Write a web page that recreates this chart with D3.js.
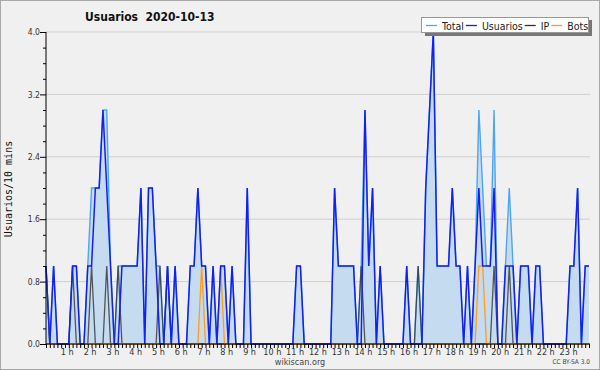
<!DOCTYPE html>
<html>
<head>
<meta charset="utf-8">
<script src="https://cdn.jsdelivr.net/npm/d3@7"></script>
<style>
  body { margin: 0; background: #f0f0f0; }
  svg { display: block; }
  text { font-family: "DejaVu Sans Condensed", "DejaVu Sans", sans-serif; font-stretch: condensed; }
</style>
</head>
<body>
<svg id="chart" width="600" height="370"></svg>
<script>
// 10-minute slots over the day, 0..143
var usuarios = [
  1,0,1,0,0,0,0,1,1,0,
  0,1,1,2,2,3,2,1,0,0,
  1,1,1,1,1,2,0,2,2,1,
  0,0,1,0,1,0,0,0,1,1,
  2,1,1,0,1,0,1,1,0,1,
  0,0,0,2,0,0,0,0,0,0,
  0,0,0,0,0,0,1,1,0,0,
  0,0,0,0,0,0,2,1,1,1,
  1,1,0,0,3,1,2,0,1,0,
  0,0,0,0,0,1,0,0,0,0,
  2,3,4,1,1,1,1,2,1,1,
  0,1,0,1,2,1,1,1,2,0,
  0,1,1,1,0,1,1,1,0,1,
  1,0,0,0,0,0,0,0,1,1,
  2,0,1,1
];
var total = [
  1,0,1,0,0,0,0,1,1,0,
  0,1,2,2,2,3,3,1,0,1,
  1,1,1,1,1,2,0,2,2,1,
  1,0,1,0,1,0,0,0,1,1,
  2,1,1,0,1,0,1,1,0,1,
  0,0,0,2,0,0,0,0,0,0,
  0,0,0,0,0,0,1,1,0,0,
  0,0,0,0,0,0,2,1,1,1,
  1,1,0,1,3,1,2,0,1,0,
  0,0,0,0,0,1,0,0,1,0,
  2,3,4,1,1,1,1,2,1,1,
  0,1,0,1,3,2,1,1,3,0,
  0,1,2,1,0,1,1,1,0,1,
  1,0,0,0,0,0,0,0,1,1,
  2,0,1,1
];
var ip = [
  1,0,0,0,0,0,0,1,0,0,
  0,0,1,0,0,0,1,0,0,1,
  0,0,0,0,0,0,0,0,0,0,
  1,0,1,0,0,0,0,0,0,0,
  0,0,0,0,0,0,0,0,0,0,
  0,0,0,0,0,0,0,0,0,0,
  0,0,0,0,0,0,0,0,0,0,
  0,0,0,0,0,0,0,0,0,0,
  0,0,0,1,0,0,0,0,0,0,
  0,0,0,0,0,0,0,0,1,0,
  0,0,0,0,0,0,0,0,0,0,
  0,0,0,0,0,0,0,0,1,0,
  0,0,1,0,0,0,0,0,0,0,
  0,0,0,0,0,0,0,0,0,0,
  0,0,0,0
];
var bots = [
  0,0,0,0,0,0,0,0,0,0,
  0,0,0,0,0,0,0,0,0,0,
  0,0,0,0,0,0,0,0,0,0,
  0,0,0,0,0,0,0,0,0,0,
  0,1,0,0,0,0,1,0,0,0,
  0,0,0,0,0,0,0,0,0,0,
  0,0,0,0,0,0,0,0,0,0,
  0,0,0,0,0,0,0,0,0,0,
  0,0,0,0,0,0,0,0,0,0,
  0,0,0,0,0,0,0,0,0,0,
  0,0,0,0,0,0,0,0,0,0,
  0,0,0,0,1,1,0,0,0,0,
  0,0,0,0,0,0,0,0,0,0,
  0,0,0,0,0,0,0,0,0,0,
  0,0,0,0
];
var yTicks = [0, 0.8, 1.6, 2.4, 3.2, 4.0];
var legendNames = ["Total", "Usuarios", "IP", "Bots"];
var legendColors = ["#4ea6ee", "#1420f2", "#333333", "#ff9c1c"];

var svg = d3.select("#chart");
var margin = {left: 46, right: 589, top: 32, bottom: 344};

svg.append("rect").attr("x", 0.5).attr("y", 0.5).attr("width", 599).attr("height", 369)
    .attr("fill", "#f0f0f0").attr("stroke", "#a8a8a8");

var x = d3.scaleLinear().domain([0, 143]).range([margin.left, margin.right]);
var y = d3.scaleLinear().domain([0, 4]).range([margin.bottom, margin.top]);

// grid
svg.append("g").selectAll("line").data(yTicks.slice(1)).enter().append("line")
    .attr("x1", margin.left).attr("x2", 590)
    .attr("y1", function(d) { return y(d); }).attr("y2", function(d) { return y(d); })
    .attr("stroke", "#cfcfcf").attr("stroke-width", 1);

var area = d3.area()
    .x(function(d, i) { return x(i); })
    .y0(y(0))
    .y1(function(d) { return y(d); });

var line = d3.line()
    .x(function(d, i) { return x(i); })
    .y(function(d) { return y(d); });

svg.append("path").datum(total).attr("fill", "#c5dcf0").attr("d", area);

svg.append("path").datum(total)
    .attr("fill", "none").attr("stroke", legendColors[0]).attr("stroke-width", 1.4)
    .attr("d", line);
svg.append("path").datum(ip)
    .attr("fill", "none").attr("stroke", legendColors[2]).attr("stroke-opacity", 0.8).attr("stroke-width", 1.3)
    .attr("d", line);
svg.append("path").datum(bots)
    .attr("fill", "none").attr("stroke", legendColors[3]).attr("stroke-width", 1.3)
    .attr("d", line);
svg.append("path").datum(usuarios)
    .attr("fill", "none").attr("stroke", legendColors[1]).attr("stroke-width", 1.5)
    .attr("d", line);

// y axis
var yAxis = svg.append("g").attr("transform", "translate(" + margin.left + ",0)")
    .call(d3.axisLeft(y).tickValues(d3.range(0, 4.01, 0.2)).tickSize(3)
      .tickFormat(function(d) {
        var k = Math.round(d * 10);
        return k % 8 === 0 ? d3.format(".1f")(d) : "";
      }));
yAxis.select(".domain").attr("stroke", "#000").attr("d", "M0," + margin.top + "V" + margin.bottom);
yAxis.selectAll(".tick").filter(function(d) { return Math.round(d * 10) % 8 === 0; })
    .select("line").attr("x2", -6);
yAxis.selectAll("text").attr("x", -6).attr("font-size", 8.5).attr("fill", "#333");

// x axis
var xAxis = svg.append("g").attr("transform", "translate(0," + margin.bottom + ")")
    .call(d3.axisBottom(x).tickValues(d3.range(0, 144)).tickSize(4)
      .tickFormat(function(d) { return (d % 6 === 0 && d > 0) ? (d / 6) + " h" : ""; }));
xAxis.select(".domain").attr("stroke", "#000").attr("d", "M" + margin.left + ",0H590");
xAxis.selectAll("text").attr("y", 5).attr("dx", -2).attr("font-size", 9).attr("fill", "#333");

// title and labels
svg.append("text").attr("x", 85).attr("y", 21).attr("font-size", 12).attr("font-weight", "bold")
    .attr("fill", "#111").attr("xml:space", "preserve").text("Usuarios  2020-10-13");

svg.append("text").attr("transform", "translate(12,189) rotate(-90)")
    .attr("text-anchor", "middle").attr("font-size", 10)
    .style("font-family", "'DejaVu Sans Mono', monospace").style("font-stretch", "normal")
    .attr("fill", "#111").text("Usuarios/10 mins");

svg.append("text").attr("x", 300).attr("y", 365).attr("text-anchor", "middle")
    .attr("font-size", 9).attr("fill", "#444").text("wikiscan.org");
svg.append("text").attr("x", 590).attr("y", 364).attr("text-anchor", "end")
    .attr("font-size", 6.5).attr("fill", "#444").text("CC BY-SA 3.0");

// legend
var lg = svg.append("g");
lg.append("rect").attr("x", 425).attr("y", 20).attr("width", 167).attr("height", 16).attr("fill", "#777");
lg.append("rect").attr("x", 421.5).attr("y", 17.5).attr("width", 167).attr("height", 15)
    .attr("fill", "#fff").attr("stroke", "#999");
var lx = 426;
legendNames.forEach(function(name, i) {
  lg.append("line").attr("x1", lx).attr("x2", lx + 11).attr("y1", 25.5).attr("y2", 25.5)
      .attr("stroke", legendColors[i]).attr("stroke-width", 1.3);
  var t = lg.append("text").attr("x", lx + 16).attr("y", 29.5).attr("font-size", 10.5)
      .attr("fill", "#222").text(name);
  lx = lx + 16 + t.node().getComputedTextLength() + 2;
});
</script>
</body>
</html>
